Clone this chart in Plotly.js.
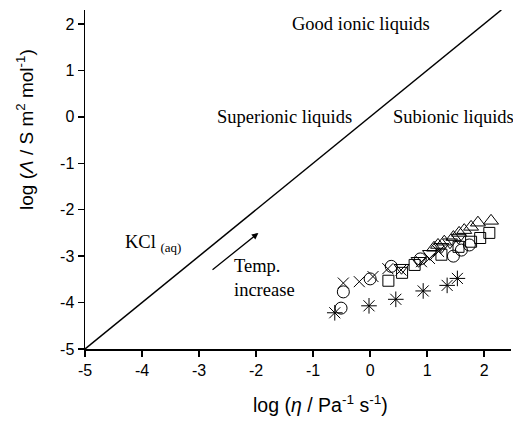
<!DOCTYPE html>
<html><head><meta charset="utf-8">
<script src="https://cdn.plot.ly/plotly-3.0.1.min.js"></script>
<style>body{margin:0;background:#fff}#g{width:513px;height:421px}</style>
</head><body><div id="g"></div>
<script>
// Walden line (ideal KCl)
const waldenX = [-5, 2.3];
const waldenY = [-5, 2.3];
// Data series: log(fluidity) vs log(molar conductivity)
const triUpX = [1.12, 1.19, 1.30, 1.46, 1.56, 1.65, 1.77, 1.89, 2.12];
const triUpY = [-2.82, -2.76, -2.69, -2.59, -2.50, -2.44, -2.37, -2.28, -2.24];
const triDnX = [0.55, 0.85, 1.05, 1.25, 1.40, 1.55];
const triDnY = [-3.25, -3.10, -2.95, -2.80, -2.70, -2.60];
const sqX = [0.32, 0.56, 0.78, 1.25, 1.55, 1.77, 1.93, 2.09];
const sqY = [-3.53, -3.36, -3.19, -2.97, -2.80, -2.69, -2.61, -2.50];
const circX = [-0.51, -0.47, 0.00, 0.37, 0.88, 1.46, 1.60, 1.74];
const circY = [-4.12, -3.77, -3.49, -3.22, -3.06, -3.00, -2.87, -2.76];
const crossX = [-0.47, -0.19, 0.05, 0.31, 0.54, 0.90, 1.04, 1.20];
const crossY = [-3.58, -3.55, -3.44, -3.27, -3.30, -3.12, -3.05, -2.90];
const astX = [-0.62, -0.02, 0.45, 0.93, 1.35, 1.53];
const astY = [-4.22, -4.07, -3.93, -3.75, -3.63, -3.48];
const tickVals = [-5, -4, -3, -2, -1, 0, 1, 2];
const tickText = ["-5", "-4", "-3", "-2", "-1", "0", "1", "2"];

function mk(x, y, sym, size) {
  return {x: x, y: y, mode: 'markers', type: 'scatter', showlegend: false,
    marker: {symbol: sym, size: size, color: '#000', line: {color: '#000', width: 1}}};
}
const data = [
  {x: waldenX, y: waldenY, mode: 'lines', type: 'scatter', showlegend: false,
   line: {color: '#000', width: 1.5}},
  mk(triUpX, triUpY, 'triangle-up-open', 13),
  mk(triDnX, triDnY, 'triangle-down-open', 13),
  mk(sqX, sqY, 'square-open', 11),
  mk(circX, circY, 'circle-open', 12),
  mk(crossX, crossY, 'x-thin-open', 11),
  mk(astX, astY, 'asterisk-open', 13)
];
const serif = {family: 'Liberation Serif, Times New Roman, serif', size: 18.5, color: '#000'};
const sans = 'Liberation Sans, Arial, sans-serif';
const layout = {
  width: 513, height: 421,
  margin: {l: 85, r: 2, t: 10, b: 72},
  paper_bgcolor: '#fff', plot_bgcolor: '#fff',
  font: {family: sans, color: '#000', size: 16},
  xaxis: {range: [-5, 2.47], showgrid: false, zeroline: false, showline: true,
    linecolor: '#000', linewidth: 1.5, ticks: 'outside', ticklen: 6, tickwidth: 1.5,
    tickcolor: '#000', tickvals: tickVals, ticktext: tickText,
    tickfont: {size: 16}},
  yaxis: {range: [-5, 2.3], showgrid: false, zeroline: false, showline: true,
    linecolor: '#000', linewidth: 1.5, ticks: 'outside', ticklen: 6, tickwidth: 1.5,
    tickcolor: '#000', tickvals: tickVals, ticktext: tickText,
    tickfont: {size: 16}},
  annotations: [
    {xref: 'paper', yref: 'paper', x: (320 - 85) / 426, y: -(404 - 349) / 339, text: 'log (<i>η</i> / Pa<sup>-1</sup> s<sup>-1</sup>)',
     showarrow: false, font: {family: sans, size: 19.5}, xanchor: 'center', yanchor: 'middle'},
    {xref: 'paper', yref: 'paper', x: -(85 - 25) / 426, y: (349 - 130) / 339, text: 'log (<i>Λ</i> / S m<sup>2</sup> mol<sup>-1</sup>)',
     showarrow: false, textangle: -90, font: {family: sans, size: 19}, xanchor: 'center', yanchor: 'middle'},
    {x: -0.16, y: 2.0, text: 'Good ionic liquids', showarrow: false, font: serif},
    {x: -1.5, y: 0.0, text: 'Superionic liquids', showarrow: false, font: serif},
    {x: 1.46, y: 0.0, text: 'Subionic liquids', showarrow: false, font: serif},
    {x: -3.8, y: -2.72, text: 'KCl <sub>(aq)</sub>', showarrow: false, font: serif},
    {x: -2.42, y: -3.47, xanchor: 'left', align: 'left', text: 'Temp.<br>increase', showarrow: false, font: serif},
    {x: -1.96, y: -2.5, ax: -2.79, ay: -3.32, axref: 'x', ayref: 'y', text: '',
     showarrow: true, arrowhead: 2, arrowsize: 1, arrowwidth: 1.3, arrowcolor: '#000'}
  ]
};
Plotly.newPlot('g', data, layout, {displayModeBar: false, staticPlot: true});
</script>
</body></html>
